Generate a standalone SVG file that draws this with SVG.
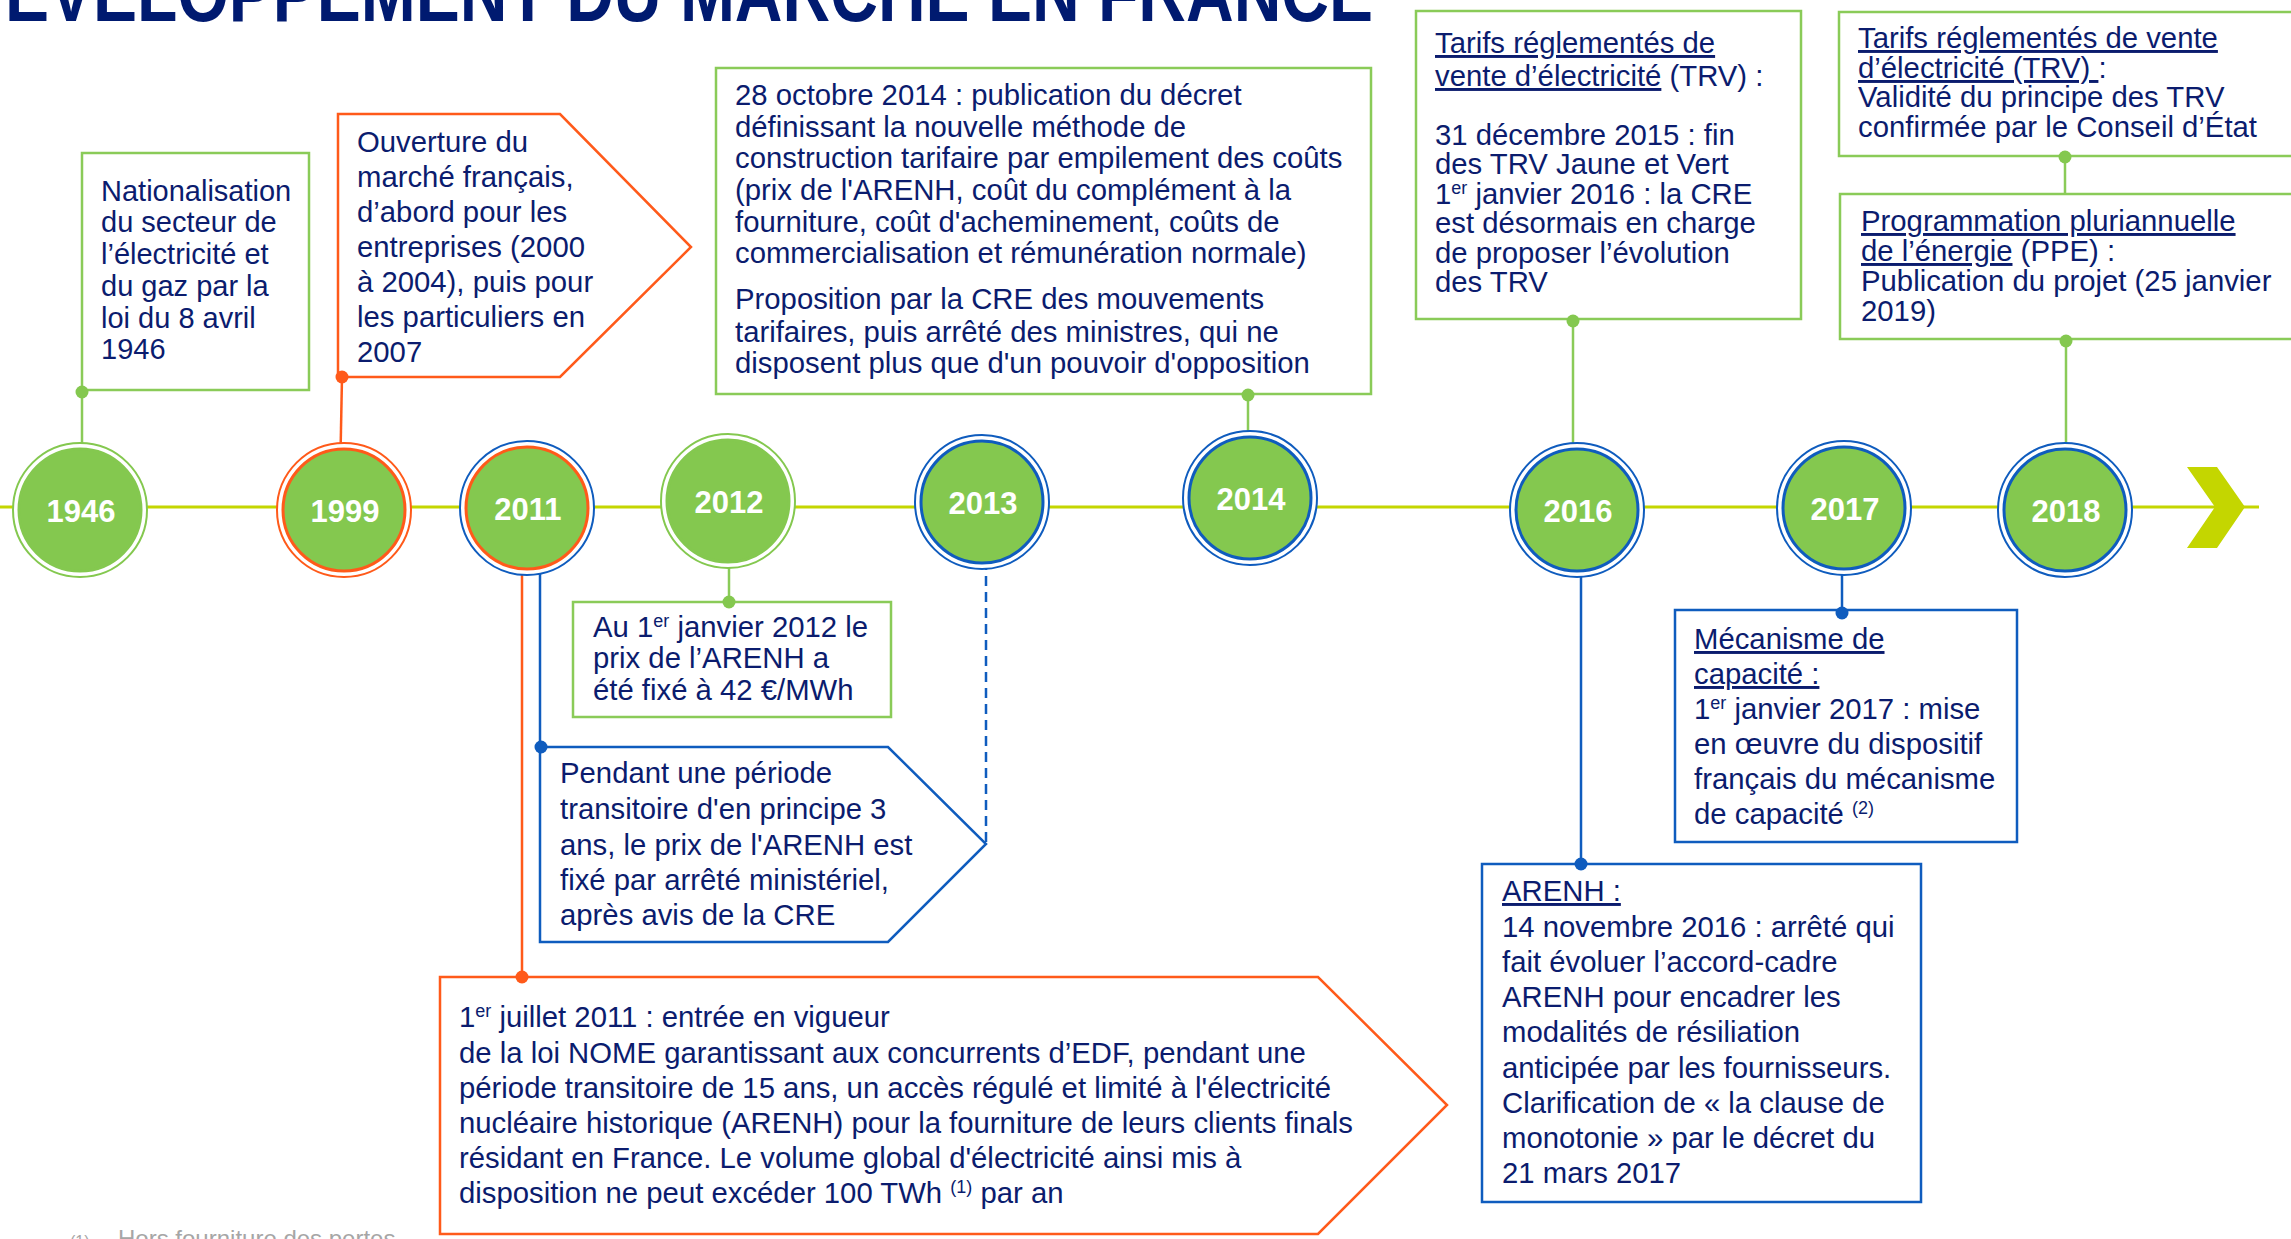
<svg xmlns="http://www.w3.org/2000/svg" width="2291" height="1239" viewBox="0 0 2291 1239">
  <style>
    .t { font-family: "Liberation Sans", Arial, sans-serif; font-size: 29.3px; fill: #0b1c6e; }
    .s28 { font-size: 29px; }
    .yr { font-family: "Liberation Sans", Arial, sans-serif; font-weight: bold; font-size: 31px; fill: #ffffff; text-anchor: middle; }
    .u { text-decoration: underline; }
    .sup { font-size: 18px; }
    .ring { fill: #ffffff; stroke-width: 2; }
    .core { fill: #84c84f; stroke-width: 3; }
    .gbox { fill: #ffffff; stroke: #8acb58; stroke-width: 2.5; }
    .bbox { fill: #ffffff; stroke: #0f5cbe; stroke-width: 2.5; }
    .obox { fill: #ffffff; stroke: #ff5a1a; stroke-width: 2.5; }
    .gline { stroke: #8acb58; stroke-width: 2.5; fill: none; }
    .bline { stroke: #0f5cbe; stroke-width: 2.5; fill: none; }
    .oline { stroke: #ff5a1a; stroke-width: 2.5; fill: none; }
    .gdot { fill: #84c84f; }
    .bdot { fill: #0f5cbe; }
    .odot { fill: #ff5a1a; }
  </style>

  <!-- Title (clipped by the top edge) -->
  <text x="5" y="21" font-family="'Liberation Sans', Arial, sans-serif" font-weight="bold" font-size="80" fill="#001a70" textLength="1368" lengthAdjust="spacingAndGlyphs">ÉVELOPPEMENT DU MARCHÉ EN FRANCE</text>

  <!-- Connectors: timeline, leader lines and anchor dots -->
  <g id="connectors">
    <line x1="0" y1="507" x2="2259" y2="507" stroke="#c4d600" stroke-width="3"/>
    <polygon points="2187,467 2217,467 2245,507 2217,548 2187,548 2215,507" fill="#c4d600"/>

    <line class="gline" x1="82" y1="392" x2="82" y2="480"/>
    <line class="oline" x1="342" y1="377" x2="340" y2="480"/>
    <line class="oline" x1="522" y1="540" x2="522" y2="977"/>
    <line class="bline" x1="540" y1="540" x2="540" y2="747"/>
    <line class="gline" x1="729" y1="540" x2="729" y2="602"/>
    <line class="bline" x1="986" y1="560" x2="986" y2="844" stroke-dasharray="10,6"/>
    <line class="gline" x1="1248" y1="395" x2="1248" y2="470"/>
    <line class="gline" x1="1573" y1="320" x2="1573" y2="480"/>
    <line class="bline" x1="1581" y1="540" x2="1581" y2="864"/>
    <line class="bline" x1="1842" y1="540" x2="1842" y2="612"/>
    <line class="gline" x1="2065" y1="158" x2="2065" y2="194"/>
    <line class="gline" x1="2066" y1="340" x2="2066" y2="480"/>
  </g>

  <!-- Year markers -->
  <g id="y1946"><circle class="ring" cx="80" cy="510" r="67" stroke="#84c84f"/><circle class="core" cx="80" cy="510" r="61" stroke="#84c84f"/><text class="yr" x="81" y="522">1946</text></g>
  <g id="y1999"><circle class="ring" cx="344" cy="510" r="67" stroke="#ff5a1a"/><circle class="core" cx="344" cy="510" r="61" stroke="#ff5a1a"/><text class="yr" x="345" y="522">1999</text></g>
  <g id="y2011"><circle class="ring" cx="527" cy="508" r="67" stroke="#0f5cbe"/><circle class="core" cx="527" cy="508" r="61" stroke="#ff5a1a"/><text class="yr" x="528" y="520">2011</text></g>
  <g id="y2012"><circle class="ring" cx="728" cy="501" r="67" stroke="#84c84f"/><circle class="core" cx="728" cy="501" r="61" stroke="#84c84f"/><text class="yr" x="729" y="513">2012</text></g>
  <g id="y2013"><circle class="ring" cx="982" cy="502" r="67" stroke="#0f5cbe"/><circle class="core" cx="982" cy="502" r="61" stroke="#0f5cbe"/><text class="yr" x="983" y="514">2013</text></g>
  <g id="y2014"><circle class="ring" cx="1250" cy="498" r="67" stroke="#0f5cbe"/><circle class="core" cx="1250" cy="498" r="61" stroke="#0f5cbe"/><text class="yr" x="1251" y="510">2014</text></g>
  <g id="y2016"><circle class="ring" cx="1577" cy="510" r="67" stroke="#0f5cbe"/><circle class="core" cx="1577" cy="510" r="61" stroke="#0f5cbe"/><text class="yr" x="1578" y="522">2016</text></g>
  <g id="y2017"><circle class="ring" cx="1844" cy="508" r="67" stroke="#0f5cbe"/><circle class="core" cx="1844" cy="508" r="61" stroke="#0f5cbe"/><text class="yr" x="1845" y="520">2017</text></g>
  <g id="y2018"><circle class="ring" cx="2065" cy="510" r="67" stroke="#0f5cbe"/><circle class="core" cx="2065" cy="510" r="61" stroke="#0f5cbe"/><text class="yr" x="2066" y="522">2018</text></g>

  <!-- 1946 : nationalisation -->
  <g id="box1946">
    <rect class="gbox" x="82" y="153" width="227" height="237"/>
    <text class="t s28">
      <tspan x="101" y="201">Nationalisation</tspan>
      <tspan x="101" y="232">du secteur de</tspan>
      <tspan x="101" y="264">l’électricité et</tspan>
      <tspan x="101" y="296">du gaz par la</tspan>
      <tspan x="101" y="328">loi du 8 avril</tspan>
      <tspan x="101" y="359">1946</tspan>
    </text>
  </g>

  <!-- 1999 : market opening -->
  <g id="box1999">
    <polygon class="obox" points="338,114 560,114 691,247 560,377 338,377"/>
    <text class="t">
      <tspan x="357" y="152">Ouverture du</tspan>
      <tspan x="357" y="187">marché français,</tspan>
      <tspan x="357" y="222">d’abord pour les</tspan>
      <tspan x="357" y="257">entreprises (2000</tspan>
      <tspan x="357" y="292">à 2004), puis pour</tspan>
      <tspan x="357" y="327">les particuliers en</tspan>
      <tspan x="357" y="362">2007</tspan>
    </text>
  </g>

  <!-- 2014 : tariff decree -->
  <g id="box2014">
    <rect class="gbox" x="716" y="68" width="655" height="326"/>
    <text class="t">
      <tspan x="735" y="105">28 octobre 2014 : publication du décret</tspan>
      <tspan x="735" y="137">définissant la nouvelle méthode de</tspan>
      <tspan x="735" y="168">construction tarifaire par empilement des coûts</tspan>
      <tspan x="735" y="200">(prix de l'ARENH, coût du complément à la</tspan>
      <tspan x="735" y="232">fourniture, coût d'acheminement, coûts de</tspan>
      <tspan x="735" y="263">commercialisation et rémunération normale)</tspan>
      <tspan x="735" y="309">Proposition par la CRE des mouvements</tspan>
      <tspan x="735" y="342">tarifaires, puis arrêté des ministres, qui ne</tspan>
      <tspan x="735" y="373">disposent plus que d'un pouvoir d'opposition</tspan>
    </text>
  </g>

  <!-- 2016 : TRV -->
  <g id="box2016trv">
    <rect class="gbox" x="1416" y="11" width="385" height="308"/>
    <text class="t">
      <tspan x="1435" y="53" class="u">Tarifs réglementés de</tspan>
      <tspan x="1435" y="86"><tspan class="u">vente d’électricité</tspan> (TRV) :</tspan>
      <tspan x="1435" y="145">31 décembre 2015 : fin</tspan>
      <tspan x="1435" y="174">des TRV Jaune et Vert</tspan>
      <tspan x="1435" y="204">1<tspan class="sup" dy="-10">er</tspan><tspan dy="10"> janvier 2016 : la CRE</tspan></tspan>
      <tspan x="1435" y="233">est désormais en charge</tspan>
      <tspan x="1435" y="263">de proposer l’évolution</tspan>
      <tspan x="1435" y="292">des TRV</tspan>
    </text>
  </g>

  <!-- 2018 : Conseil d'État -->
  <g id="box2018trv">
    <rect class="gbox" x="1839" y="12" width="470" height="144"/>
    <text class="t">
      <tspan x="1858" y="48" class="u">Tarifs réglementés de vente</tspan>
      <tspan x="1858" y="78"><tspan class="u">d’électricité (TRV) </tspan>:</tspan>
      <tspan x="1858" y="107">Validité du principe des TRV</tspan>
      <tspan x="1858" y="137">confirmée par le Conseil d’État</tspan>
    </text>
  </g>

  <!-- 2018 : PPE -->
  <g id="box2018ppe">
    <rect class="gbox" x="1840" y="194" width="470" height="145"/>
    <text class="t">
      <tspan x="1861" y="231" class="u">Programmation pluriannuelle</tspan>
      <tspan x="1861" y="261"><tspan class="u">de l’énergie</tspan> (PPE) :</tspan>
      <tspan x="1861" y="291">Publication du projet (25 janvier</tspan>
      <tspan x="1861" y="321">2019)</tspan>
    </text>
  </g>

  <!-- 2012 : ARENH price -->
  <g id="box2012">
    <rect class="gbox" x="573" y="602" width="318" height="115"/>
    <text class="t">
      <tspan x="593" y="637">Au 1<tspan class="sup" dy="-10">er</tspan><tspan dy="10"> janvier 2012 le</tspan></tspan>
      <tspan x="593" y="668">prix de l’ARENH a</tspan>
      <tspan x="593" y="700">été fixé à 42 €/MWh</tspan>
    </text>
  </g>

  <!-- 2011 : transitional period -->
  <g id="box2011blue">
    <polygon class="bbox" points="540,747 888,747 986,844 888,942 540,942"/>
    <text class="t">
      <tspan x="560" y="783">Pendant une période</tspan>
      <tspan x="560" y="819">transitoire d'en principe 3</tspan>
      <tspan x="560" y="855">ans, le prix de l'ARENH est</tspan>
      <tspan x="560" y="890">fixé par arrêté ministériel,</tspan>
      <tspan x="560" y="925">après avis de la CRE</tspan>
    </text>
  </g>

  <!-- 2011 : NOME law -->
  <g id="box2011nome">
    <polygon class="obox" points="440,977 1318,977 1447,1105 1318,1234 440,1234"/>
    <text class="t">
      <tspan x="459" y="1027">1<tspan class="sup" dy="-10">er</tspan><tspan dy="10"> juillet 2011 : entrée en vigueur</tspan></tspan>
      <tspan x="459" y="1063">de la loi NOME garantissant aux concurrents d’EDF, pendant une</tspan>
      <tspan x="459" y="1098">période transitoire de 15 ans, un accès régulé et limité à l'électricité</tspan>
      <tspan x="459" y="1133">nucléaire historique (ARENH) pour la fourniture de leurs clients finals</tspan>
      <tspan x="459" y="1168">résidant en France. Le volume global d'électricité ainsi mis à</tspan>
      <tspan x="459" y="1203">disposition ne peut excéder 100 TWh <tspan class="sup" dy="-10">(1)</tspan><tspan dy="10"> par an</tspan></tspan>
    </text>
  </g>

  <!-- 2017 : capacity mechanism -->
  <g id="box2017">
    <rect class="bbox" x="1675" y="610" width="342" height="232"/>
    <text class="t">
      <tspan x="1694" y="649" class="u">Mécanisme de</tspan>
      <tspan x="1694" y="684" class="u">capacité :</tspan>
      <tspan x="1694" y="719">1<tspan class="sup" dy="-10">er</tspan><tspan dy="10"> janvier 2017 : mise</tspan></tspan>
      <tspan x="1694" y="754">en œuvre du dispositif</tspan>
      <tspan x="1694" y="789">français du mécanisme</tspan>
      <tspan x="1694" y="824">de capacité <tspan class="sup" dy="-10">(2)</tspan></tspan>
    </text>
  </g>

  <!-- 2016 : ARENH framework -->
  <g id="box2016arenh">
    <rect class="bbox" x="1482" y="864" width="439" height="338"/>
    <text class="t">
      <tspan x="1502" y="901" class="u">ARENH :</tspan>
      <tspan x="1502" y="937">14 novembre 2016 : arrêté qui</tspan>
      <tspan x="1502" y="972">fait évoluer l’accord-cadre</tspan>
      <tspan x="1502" y="1007">ARENH pour encadrer les</tspan>
      <tspan x="1502" y="1042">modalités de résiliation</tspan>
      <tspan x="1502" y="1078">anticipée par les fournisseurs.</tspan>
      <tspan x="1502" y="1113">Clarification de « la clause de</tspan>
      <tspan x="1502" y="1148">monotonie » par le décret du</tspan>
      <tspan x="1502" y="1183">21 mars 2017</tspan>
    </text>
  </g>

  <!-- Anchor dots on top of the boxes -->
  <g id="anchors">
    <circle class="gdot" cx="82" cy="392" r="6.5"/>
    <circle class="odot" cx="342" cy="377" r="6.5"/>
    <circle class="odot" cx="522" cy="977" r="6.5"/>
    <circle class="bdot" cx="541" cy="747" r="6.5"/>
    <circle class="gdot" cx="729" cy="602" r="6.5"/>
    <circle class="gdot" cx="1248" cy="395" r="6.5"/>
    <circle class="gdot" cx="1573" cy="321" r="6.5"/>
    <circle class="bdot" cx="1581" cy="864" r="6.5"/>
    <circle class="bdot" cx="1842" cy="613" r="6.5"/>
    <circle class="gdot" cx="2065" cy="157" r="6.5"/>
    <circle class="gdot" cx="2066" cy="341" r="6.5"/>
  </g>

  <!-- Footnote (partly below the bottom edge) -->
  <g id="footnote" font-family="'Liberation Sans', Arial, sans-serif" fill="#a6a6a6">
    <text x="70" y="1247" font-size="16">(1)</text>
    <text x="118" y="1247" font-size="24">Hors fourniture des pertes</text>
  </g>
</svg>
